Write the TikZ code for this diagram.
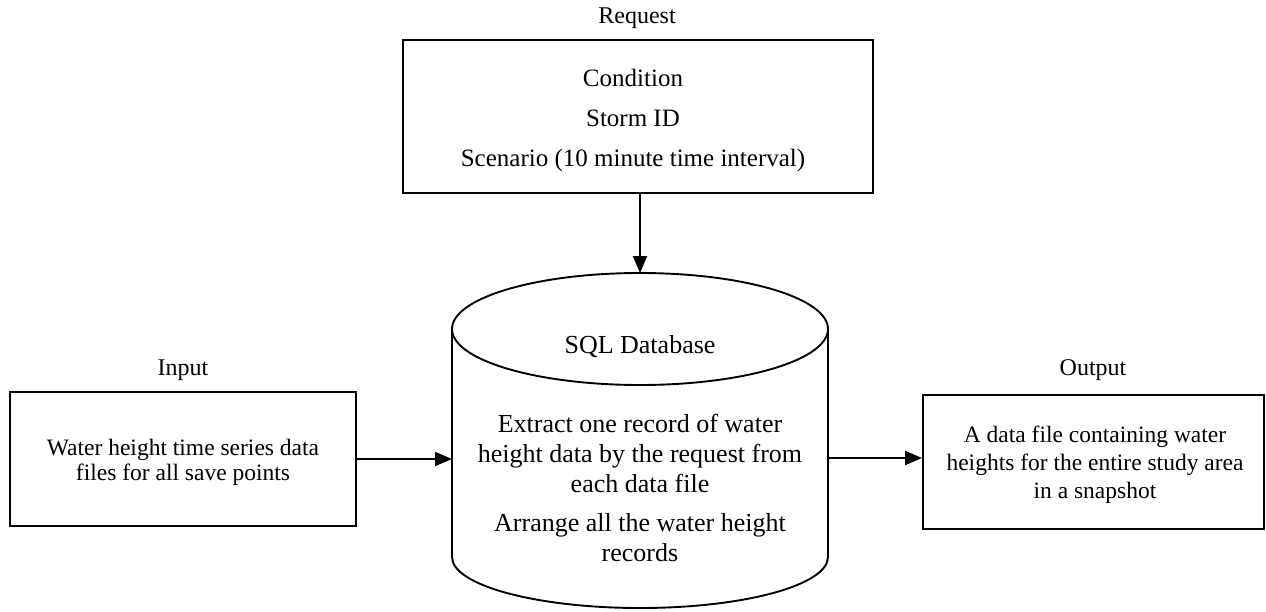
\documentclass[tikz,border=0pt]{standalone}
\usepackage{fontspec}
\setmainfont{Liberation Serif}
\usetikzlibrary{arrows.meta}
\begin{document}
\begin{tikzpicture}[x=1pt,y=-1pt,
  box/.style={draw,line width=1.9pt,rectangle,inner sep=0pt},
  lbl/.style={font=\fontsize{24}{28}\selectfont,inner sep=0pt},
  txt/.style={align=center,inner sep=0pt},
  arr/.style={line width=1.9pt,-{Triangle[length=17pt,width=14pt]}}]
\useasboundingbox (0,0) rectangle (1266,611);
% Request
\node[lbl] (reqlbl) at (637,18) {Request};
\node[box,minimum width=470pt,minimum height=153pt] (req) at (638,116.5) {};
\node[txt,font=\fontsize{25}{40}\selectfont] (reqtxt) at (633,120) {Condition\\Storm ID\\Scenario (10 minute time interval)};
% Cylinder
\draw[line width=1.9pt] (452,329) -- (452,557) arc[start angle=180,end angle=360,x radius=188pt,y radius=51pt] -- (828,329);
\draw[line width=1.9pt] (640,329) ellipse[x radius=188pt,y radius=56pt];
\node[minimum width=376pt,minimum height=335pt,inner sep=0pt] (db) at (640,440.5) {};
\coordinate (dbtop) at (640,273);
\node[txt,font=\fontsize{26}{30}\selectfont] (dbname) at (640,347) {SQL Database};
\node[txt,font=\fontsize{26}{30}\selectfont] (dbt1) at (640,453) {Extract one record of water\\height data by the request from\\each data file};
\node[txt,font=\fontsize{26}{30}\selectfont] (dbt2) at (640,538) {Arrange all the water height\\records};
% Input
\node[lbl] (inlbl) at (183,370) {Input};
\node[box,minimum width=346pt,minimum height=134pt] (inp) at (183,459) {};
\node[txt,font=\fontsize{23.5}{25}\selectfont] (intxt) at (183,462) {Water height time series data\\files for all save points};
% Output
\node[lbl] (outlbl) at (1093,370) {Output};
\node[box,minimum width=341pt,minimum height=134pt] (out) at (1093.5,462) {};
\node[txt,font=\fontsize{23.5}{28}\selectfont] (outtxt) at (1095,465) {A data file containing water\\heights for the entire study area\\in a snapshot};
% Arrows
\coordinate (dbin) at (452,459);
\coordinate (dbout) at (828,458);
\draw[arr] (req.south -| dbtop) -- (dbtop);
\draw[arr] (inp.east |- dbin) -- (dbin);
\draw[arr] (dbout) -- (out.west |- dbout);
\end{tikzpicture}
\end{document}
